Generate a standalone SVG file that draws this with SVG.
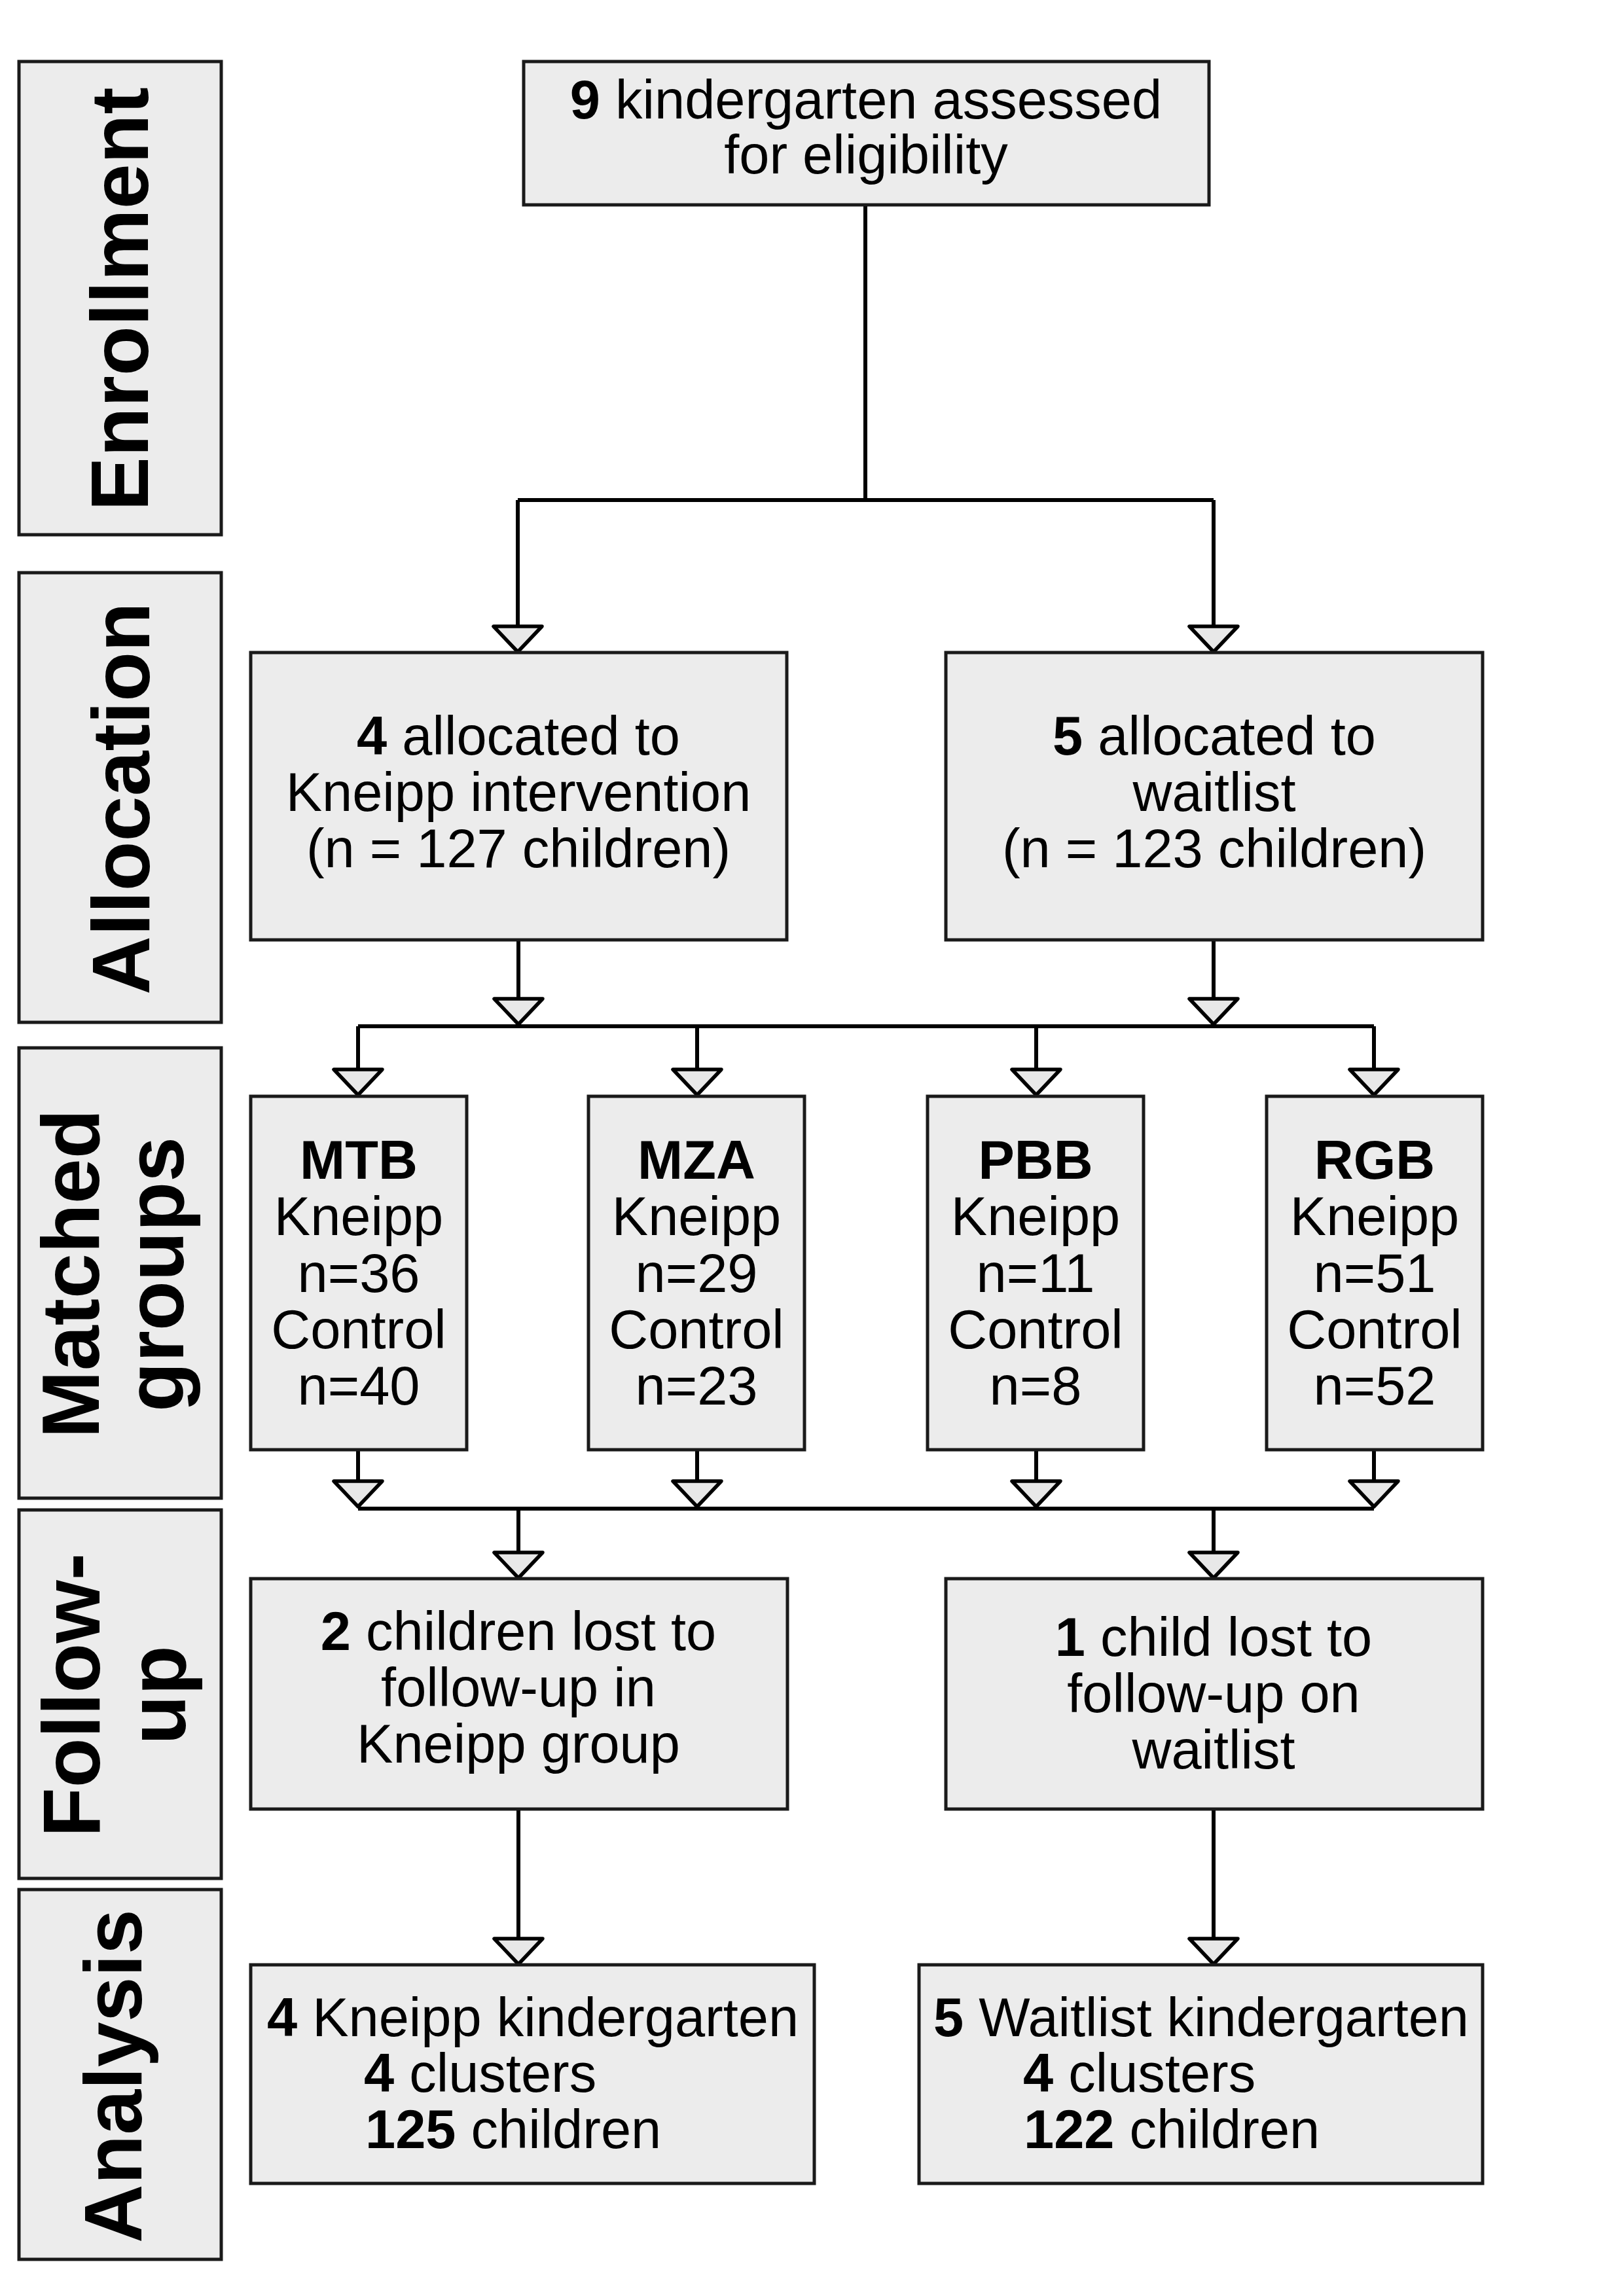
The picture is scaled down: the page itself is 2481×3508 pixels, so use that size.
<svg xmlns="http://www.w3.org/2000/svg" width="2481" height="3508" viewBox="0 0 2481 3508">
<style>
  .box { fill: #ececec; stroke: #1a1a1a; stroke-width: 5; }
  .t { font-family: "Liberation Sans", Arial, sans-serif; font-size: 83px; fill: #000; text-anchor: middle; }
  .ts { font-family: "Liberation Sans", Arial, sans-serif; font-size: 83px; fill: #000; text-anchor: start; }
  .lab { font-family: "Liberation Sans", Arial, sans-serif; font-size: 124px; font-weight: bold; fill: #000; text-anchor: middle; }
  .b { font-weight: bold; }
  .ln { fill: none; stroke: #000; stroke-width: 6; }
  .arr { fill: none; stroke: #000; stroke-width: 6; marker-end: url(#tri); }
</style>
<defs>
  <marker id="tri" markerUnits="userSpaceOnUse" viewBox="-46 -46 92 92" markerWidth="92" markerHeight="92" refX="0" refY="0" orient="auto">
    <path d="M-39,-37 L0,0 L-39,37 Z" fill="#e8e8e8" stroke="#000" stroke-width="5.5" stroke-linejoin="round"/>
  </marker>
</defs>
<rect width="2481" height="3508" fill="#fff"/>

<!-- Stage labels -->
<g id="label-enrollment">
  <rect class="box" x="29" y="94" width="309" height="723"/>
  <text class="lab" transform="translate(226,457) rotate(-90)">Enrollment</text>
</g>
<g id="label-allocation">
  <rect class="box" x="29" y="875" width="309" height="687"/>
  <text class="lab" transform="translate(228,1220) rotate(-90)">Allocation</text>
</g>
<g id="label-matched">
  <rect class="box" x="29" y="1601" width="309" height="688"/>
  <text class="lab" transform="translate(151,1946) rotate(-90)">Matched</text>
  <text class="lab" transform="translate(280,1947) rotate(-90)">groups</text>
</g>
<g id="label-followup">
  <rect class="box" x="29" y="2307" width="309" height="563"/>
  <text class="lab" transform="translate(152,2590) rotate(-90)">Follow-</text>
  <text class="lab" transform="translate(283,2590) rotate(-90)">up</text>
</g>
<g id="label-analysis">
  <rect class="box" x="29" y="2887" width="309" height="565"/>
  <text class="lab" transform="translate(216,3172) rotate(-90)">Analysis</text>
</g>

<!-- Connectors -->
<g id="connectors">
  <polyline class="ln" points="1322,313 1322,764"/>
  <polyline class="ln" points="791,764 1854,764"/>
  <line class="arr" x1="791" y1="764" x2="791" y2="996"/>
  <line class="arr" x1="1854" y1="764" x2="1854" y2="996"/>

  <line class="arr" x1="792" y1="1436" x2="792" y2="1565"/>
  <line class="arr" x1="1854" y1="1436" x2="1854" y2="1565"/>
  <polyline class="ln" points="547,1568 2099,1568"/>
  <line class="arr" x1="547" y1="1568" x2="547" y2="1673"/>
  <line class="arr" x1="1065" y1="1568" x2="1065" y2="1673"/>
  <line class="arr" x1="1583" y1="1568" x2="1583" y2="1673"/>
  <line class="arr" x1="2099" y1="1568" x2="2099" y2="1673"/>

  <line class="arr" x1="547" y1="2215" x2="547" y2="2302"/>
  <line class="arr" x1="1065" y1="2215" x2="1065" y2="2302"/>
  <line class="arr" x1="1583" y1="2215" x2="1583" y2="2302"/>
  <line class="arr" x1="2099" y1="2215" x2="2099" y2="2302"/>
  <polyline class="ln" points="547,2305 2099,2305"/>
  <line class="arr" x1="792" y1="2305" x2="792" y2="2411"/>
  <line class="arr" x1="1854" y1="2305" x2="1854" y2="2411"/>

  <line class="arr" x1="792" y1="2764" x2="792" y2="3001"/>
  <line class="arr" x1="1854" y1="2764" x2="1854" y2="3001"/>
</g>

<!-- Nodes -->
<g id="node-assessed">
  <rect class="box" x="800" y="94" width="1047" height="219"/>
  <text class="t" x="1323" y="181"><tspan class="b">9</tspan> kindergarten assessed</text>
  <text class="t" x="1323" y="265">for eligibility</text>
</g>
<g id="node-alloc-kneipp">
  <rect class="box" x="383" y="997" width="819" height="439"/>
  <text class="t" x="792" y="1153"><tspan class="b">4</tspan> allocated to</text>
  <text class="t" x="792" y="1239">Kneipp intervention</text>
  <text class="t" x="792" y="1325">(n = 127 children)</text>
</g>
<g id="node-alloc-waitlist">
  <rect class="box" x="1445" y="997" width="820" height="439"/>
  <text class="t" x="1855" y="1153"><tspan class="b">5</tspan> allocated to</text>
  <text class="t" x="1855" y="1239">waitlist</text>
  <text class="t" x="1855" y="1325">(n = 123 children)</text>
</g>
<g id="node-mtb">
  <rect class="box" x="383" y="1675" width="330" height="540"/>
  <text class="t b" x="548" y="1801">MTB</text>
  <text class="t" x="548" y="1887">Kneipp</text>
  <text class="t" x="548" y="1974">n=36</text>
  <text class="t" x="548" y="2060">Control</text>
  <text class="t" x="548" y="2146">n=40</text>
</g>
<g id="node-mza">
  <rect class="box" x="899" y="1675" width="330" height="540"/>
  <text class="t b" x="1064" y="1801">MZA</text>
  <text class="t" x="1064" y="1887">Kneipp</text>
  <text class="t" x="1064" y="1974">n=29</text>
  <text class="t" x="1064" y="2060">Control</text>
  <text class="t" x="1064" y="2146">n=23</text>
</g>
<g id="node-pbb">
  <rect class="box" x="1417" y="1675" width="330" height="540"/>
  <text class="t b" x="1582" y="1801">PBB</text>
  <text class="t" x="1582" y="1887">Kneipp</text>
  <text class="t" x="1582" y="1974">n=11</text>
  <text class="t" x="1582" y="2060">Control</text>
  <text class="t" x="1582" y="2146">n=8</text>
</g>
<g id="node-rgb">
  <rect class="box" x="1935" y="1675" width="330" height="540"/>
  <text class="t b" x="2100" y="1801">RGB</text>
  <text class="t" x="2100" y="1887">Kneipp</text>
  <text class="t" x="2100" y="1974">n=51</text>
  <text class="t" x="2100" y="2060">Control</text>
  <text class="t" x="2100" y="2146">n=52</text>
</g>
<g id="node-lost-kneipp">
  <rect class="box" x="383" y="2412" width="820" height="352"/>
  <text class="t" x="792" y="2521"><tspan class="b">2</tspan> children lost to</text>
  <text class="t" x="792" y="2607">follow-up in</text>
  <text class="t" x="792" y="2693">Kneipp group</text>
</g>
<g id="node-lost-waitlist">
  <rect class="box" x="1445" y="2412" width="820" height="352"/>
  <text class="t" x="1854" y="2530"><tspan class="b">1</tspan> child lost to</text>
  <text class="t" x="1854" y="2616">follow-up on</text>
  <text class="t" x="1854" y="2702">waitlist</text>
</g>
<g id="node-analysis-kneipp">
  <rect class="box" x="383" y="3002" width="861" height="334"/>
  <text class="t" x="814" y="3111"><tspan class="b">4</tspan> Kneipp kindergarten</text>
  <text class="ts" x="556" y="3196"><tspan class="b">4</tspan> clusters</text>
  <text class="ts" x="558" y="3282"><tspan class="b">125</tspan> children</text>
</g>
<g id="node-analysis-waitlist">
  <rect class="box" x="1404" y="3002" width="861" height="334"/>
  <text class="t" x="1835" y="3111"><tspan class="b">5</tspan> Waitlist kindergarten</text>
  <text class="ts" x="1563" y="3196"><tspan class="b">4</tspan> clusters</text>
  <text class="ts" x="1564" y="3282"><tspan class="b">122</tspan> children</text>
</g>
</svg>
